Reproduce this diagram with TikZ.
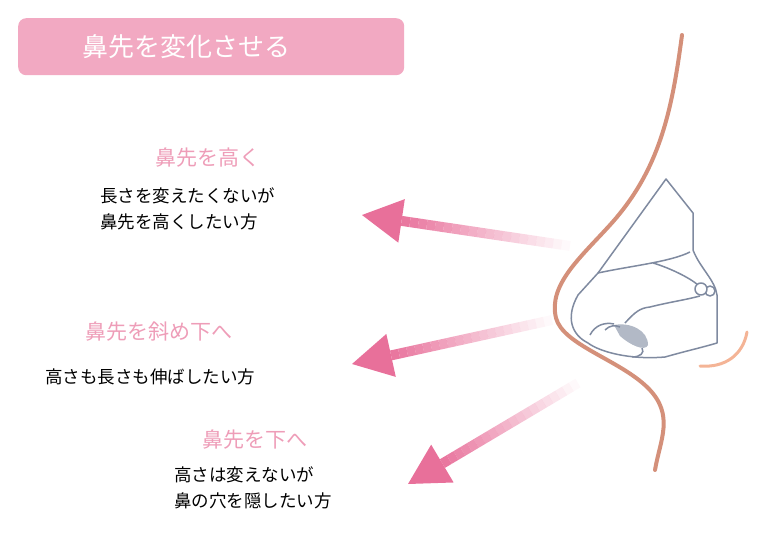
\documentclass[tikz,border=0pt]{standalone}
\usepackage{fontspec}
\setmainfont{Noto Sans CJK JP}
\usetikzlibrary{calc}
\definecolor{pk}{HTML}{E8709A}
\definecolor{pkl}{HTML}{F2A9C2}
\definecolor{pkt}{HTML}{EE9DB8}
\definecolor{skin}{HTML}{D4907A}
\definecolor{gl}{HTML}{7F8AA0}
\definecolor{lipc}{HTML}{F4B496}
\tikzset{ttl/.style={text=pkt,font=\fontsize{21}{24}\selectfont,anchor=west,inner sep=0},
 body/.style={text=black,font=\fontsize{17.5}{26}\selectfont,anchor=west,align=left,inner sep=0},
 nl/.style={draw=gl,line width=1.5pt,line join=round}}
\newcommand{\garrow}[2]{%
 \coordinate (hb) at ($(#2)!40pt!(#1)$);
 \foreach \i [evaluate=\i as \a using {\i/20}, evaluate=\i as \b using {(\i+1)/20}, evaluate=\i as \o using {0.04+\i*0.048}] in {0,...,19}{\draw[pk,line width=10pt,draw opacity=\o] ($(#1)!\a!(hb)$) -- ($(#1)!\b!(hb)$);}
 \fill[pk] ($(hb)!22pt!90:(#2)$) -- (#2) -- ($(hb)!22pt!-90:(#2)$) -- cycle;}
\begin{document}
\begin{tikzpicture}[x=1pt,y=-1pt]
\useasboundingbox (0,0) rectangle (768,534);
\node[fill=pkl,rounded corners=8pt,minimum width=386,minimum height=57,anchor=north west,inner sep=0] (title) at (18,18) {};
\node[text=white,font=\fontsize{26}{30}\selectfont,anchor=west,inner sep=0] (tt) at (82,47) {鼻先を変化させる};
% arrows
\coordinate (a1s) at (570,246); \coordinate (a1e) at (362,215);
\coordinate (a2s) at (552,320); \coordinate (a2e) at (352,364);
\coordinate (a3s) at (578,383); \coordinate (a3e) at (408,484);
\garrow{a1s}{a1e}
\garrow{a2s}{a2e}
\garrow{a3s}{a3e}
% texts
\node[ttl] (t1) at (155,158) {鼻先を高く};
\node[body] (b1) at (100,209) {長さを変えたくないが\\鼻先を高くしたい方};
\node[ttl] (t2) at (85,332) {鼻先を斜め下へ};
\node[body] (b2) at (45,377) {高さも長さも伸ばしたい方};
\node[ttl] (t3) at (202,440) {鼻先を下へ};
\node[body] (b3) at (174,488) {高さは変えないが\\鼻の穴を隠したい方};
% profile
\draw[skin,line width=4pt,line cap=round] (682,35) .. controls (672,110) and (660,170) .. (610,225) .. controls (580,258) and (548,285) .. (556,318) .. controls (563,345) and (620,360) .. (648,388) .. controls (675,415) and (660,440) .. (655,470);
% lip
\draw[lipc,line width=3pt,line cap=round] (747,332) .. controls (743,355) and (725,368) .. (700,366);
% nose cartilage
\draw[nl,fill=white] (666,179) -- (693,213) -- (693,250) .. controls (700,268) and (715,280) .. (717,295) -- (717,343) .. controls (700,348) and (690,350) .. (665,357) .. controls (630,360) and (600,352) .. (588,343) .. controls (572,335) and (565,318) .. (578,295) -- (598,273) -- cycle;
\draw[nl] (598,273) .. controls (630,266) and (670,262) .. (690,252);
\draw[nl] (653,263) .. controls (670,268) and (690,278) .. (698,285);
\draw[nl] (625,323) .. controls (635,312) and (640,308) .. (650,307) .. controls (670,302) and (685,300) .. (700,296);
\draw[nl,fill=white] (710,291) circle (5);
\draw[nl,fill=white] (701,289) circle (6);
\fill[gl!60] (614,325) .. controls (630,322) and (648,330) .. (648,345) .. controls (645,352) and (630,345) .. (620,336) -- cycle;
\draw[nl] (590,335) .. controls (595,325) and (605,322) .. (614,324);
\draw[nl] (605,330) .. controls (610,325) and (615,325) .. (620,327);
\draw[nl] (642,348) .. controls (645,353) and (640,357) .. (632,357);
\end{tikzpicture}
\end{document}
